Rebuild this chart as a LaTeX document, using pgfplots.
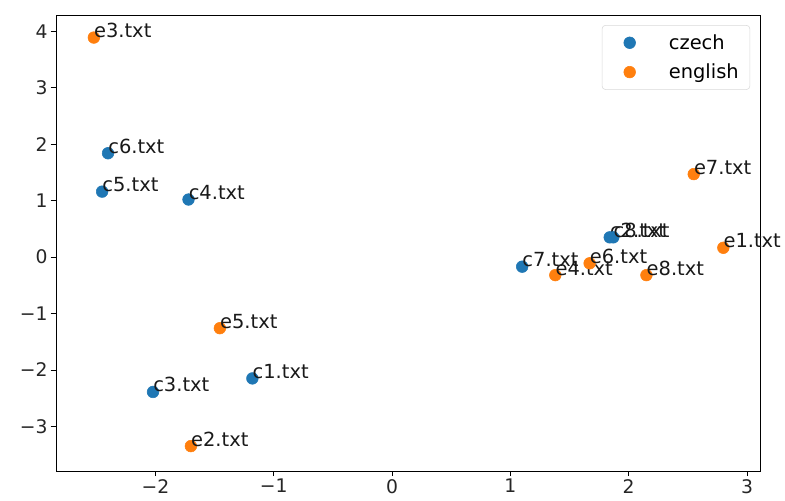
\documentclass[border=0pt]{standalone}
\usepackage{fontspec}
\setmainfont{DejaVu Sans}
\usepackage{pgfplots}
\usepackage{pgfplotstable}
\pgfplotsset{compat=1.18}

\definecolor{tabblue}{HTML}{1F77B4}
\definecolor{taborange}{HTML}{FF7F0E}

% 2-D projection of the documents
\pgfplotstableread{
x y label
-1.18 -2.15 c1.txt
1.84 0.35 c2.txt
-2.02 -2.39 c3.txt
-1.72 1.02 c4.txt
-2.45 1.16 c5.txt
-2.40 1.84 c6.txt
1.10 -0.17 c7.txt
1.87 0.35 c8.txt
}\czech

\pgfplotstableread{
x y label
2.80 0.165 e1.txt
-1.70 -3.35 e2.txt
-2.52 3.89 e3.txt
1.38 -0.32 e4.txt
-1.455 -1.26 e5.txt
1.67 -0.11 e6.txt
2.55 1.47 e7.txt
2.15 -0.32 e8.txt
}\english

\begin{document}
\begin{tikzpicture}
\useasboundingbox (0,0) rectangle (565.2pt,360.7pt);
\begin{axis}[
  at={(40.3pt,21.6pt)}, anchor=south west,
  scale only axis, width=506.9pt, height=328.3pt,
  xmin=-2.84, xmax=3.11, ymin=-3.79, ymax=4.29,
  axis line style={line width=0.6pt},
  tick style={black, line width=0.6pt},
  tick align=outside, major tick length=3.8pt,
  xtick pos=left, ytick pos=left,
  xtick={-2,-1,0,1,2,3}, xticklabels={−2,−1,0,1,2,3},
  ytick={-3,-2,-1,0,1,2,3,4}, yticklabels={−3,−2,−1,0,1,2,3,4},
  ticklabel style={font=\fontsize{13.5}{16}\selectfont, inner sep=2pt, text=black!85},
  clip=false,
  legend style={at={(0.986,0.978)}, anchor=north east,
    draw=black!15, fill=white,
    rounded corners=2.5pt, font=\fontsize{14}{16}\selectfont,
    inner xsep=6pt, inner ysep=4.5pt, row sep=5pt},
  legend cell align=left,
  legend image code/.code={\path (0cm,0cm); \draw[#1] plot coordinates {(0.48cm,0cm)};},
  nodes near coords style={anchor=base west, inner sep=0pt, font=\fontsize{14}{16}\selectfont, text=black!90},
]
\addplot[only marks, mark=*, mark size=4.2pt, mark options={draw=tabblue, fill=tabblue},
  nodes near coords, point meta=explicit symbolic]
  table[x=x, y=y, meta=label]{\czech};
\addlegendentry{\hspace{22pt}czech}
\addplot[only marks, mark=*, mark size=4.2pt, mark options={draw=taborange, fill=taborange},
  nodes near coords, point meta=explicit symbolic]
  table[x=x, y=y, meta=label]{\english};
\addlegendentry{\hspace{22pt}english}
\end{axis}
\end{tikzpicture}
\end{document}
